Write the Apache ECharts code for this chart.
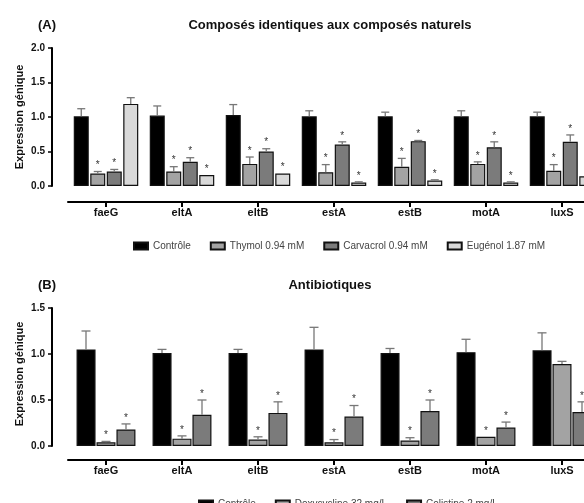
<!DOCTYPE html>
<html><head><meta charset="utf-8">
<script src="https://cdn.jsdelivr.net/npm/echarts@6/dist/echarts.min.js"></script>
<style>html,body{margin:0;padding:0;background:#fff}#c{width:584px;height:503px}</style>
</head><body><div id="c"></div>
<script>
const categories = ['faeG','eltA','eltB','estA','estB','motA','luxS'];
const yTicksA = [0, 0.5, 1.0, 1.5, 2.0];
const yTicksB = [0, 0.5, 1.0, 1.5];
const yTitle = 'Expression génique';

// Panel A
const controleA = [1.01,1.02,1.03,1.01,1.01,1.01,1.01];
const controleAErr = [1.12,1.16,1.18,1.09,1.07,1.09,1.07];
const thymol = [0.18,0.21,0.32,0.20,0.28,0.32,0.22];
const thymolErr = [0.21,0.28,0.42,0.31,0.40,0.35,0.31];
const carvacrol = [0.21,0.35,0.50,0.60,0.65,0.56,0.64];
const carvacrolErr = [0.24,0.41,0.54,0.64,0.66,0.64,0.74];
const eugenol = [1.19,0.16,0.18,0.05,0.08,0.05,0.14];
const eugenolErr = [1.28,0.16,0.18,0.06,0.09,0.06,0.14];
const starsThymol = [1,1,1,1,1,1,1];
const starsCarvacrol = [1,1,1,1,1,1,1];
const starsEugenol = [0,1,1,1,1,1,1];
const noStars = [0,0,0,0,0,0,0];

// Panel B
const controleB = [1.05,1.01,1.01,1.05,1.01,1.02,1.04];
const controleBErr = [1.25,1.05,1.05,1.29,1.06,1.16,1.23];
const doxy = [0.04,0.08,0.07,0.04,0.06,0.10,0.89];
const doxyErr = [0.05,0.11,0.10,0.07,0.09,0.10,0.92];
const colis = [0.18,0.34,0.36,0.32,0.38,0.20,0.37];
const colisErr = [0.24,0.50,0.48,0.44,0.50,0.26,0.48];
const starsDoxy = [1,1,1,1,1,1,0];
const starsColis = [1,1,1,1,1,1,1];

const FONT = 'Liberation Sans, Arial, sans-serif';
const cols = {ctrl:'#000000', mid:'#a3a3a3', dark:'#7b7b7b', light:'#d9d9d9'};

function errSeries(grid, vals, errs, stars, idx, n, bw, gap, capW){
  const data = vals.map((v,i)=>[i, v, errs[i], stars[i]]);
  return {
    type:'custom', xAxisIndex:grid, yAxisIndex:grid, z:5, silent:true,
    data,
    renderItem(params, api){
      const ci = api.value(0), v = api.value(1), e = api.value(2), s = api.value(3);
      const groupW = n*bw + (n-1)*gap;
      const off = -groupW/2 + bw/2 + idx*(bw+gap);
      const pv = api.coord([ci, v]);
      const pe = api.coord([ci, e]);
      const x = pv[0] + off;
      const children = [];
      if (pe[1] < pv[1] - 0.5) {
        children.push({type:'line', shape:{x1:x, y1:pv[1], x2:x, y2:pe[1]}, style:{stroke:'#777', lineWidth:1.3}});
        children.push({type:'line', shape:{x1:x-capW/2, y1:pe[1], x2:x+capW/2, y2:pe[1]}, style:{stroke:'#777', lineWidth:1.3}});
      }
      if (s) {
        const top = Math.min(pv[1], pe[1]);
        children.push({type:'text', style:{text:'*', x:x, y:top-6, align:'center', verticalAlign:'middle', font:'10px '+FONT, fill:'#333'}});
      }
      return {type:'group', children};
    }
  };
}

function barSeries(grid, name, vals, color, bw, gapPct){
  return {
    type:'bar', name, xAxisIndex:grid, yAxisIndex:grid, data:vals,
    barWidth:bw, barGap:gapPct,
    itemStyle:{color, borderColor:'#111', borderWidth:1.2},
    emphasis:{disabled:true}
  };
}

const xAxisBase = (grid, offset) => ({
  type:'category', gridIndex:grid, data:categories, offset,
  axisLine:{onZero:false, lineStyle:{color:'#000', width:2}},
  axisTick:{show:true, alignWithLabel:true, interval:0, length:5, lineStyle:{color:'#000', width:2}},
  axisLabel:{fontFamily:FONT, fontWeight:'bold', fontSize:11, color:'#111', margin:5}
});
const yAxisBase = (grid, max, ticks) => ({
  type:'value', gridIndex:grid, min:ticks[0], max, interval:0.5, offset:16,
  axisLine:{show:true, onZero:false, lineStyle:{color:'#000', width:2}},
  axisTick:{show:true, length:4, lineStyle:{color:'#000', width:1.5}},
  axisLabel:{fontFamily:FONT, fontWeight:'bold', fontSize:10, color:'#111', margin:7,
    formatter:v=>v.toFixed(1)},
  splitLine:{show:false}
});

const bwA = 15, gapA = 1.5, bwB = 19, gapB = 1;
const legendCommon = {itemWidth:14, itemHeight:7, itemGap:19, selectedMode:false, icon:'rect',
  textStyle:{fontFamily:FONT, fontSize:10, color:'#444'}};

const yNameText = (cy) => ({
  type:'text', x:20, y:cy, rotation:Math.PI/2,
  style:{text:yTitle, align:'center', verticalAlign:'middle',
    font:'bold 11px '+FONT, fill:'#111'}
});

const option = {
  animation:false,
  backgroundColor:'#fff',
  title:[
    {text:'(A)', left:33, top:14, textStyle:{fontFamily:FONT, fontWeight:'bold', fontSize:13, color:'#111'}},
    {text:'Composés identiques aux composés naturels', left:325, top:14, textAlign:'center',
      textStyle:{fontFamily:FONT, fontWeight:'bold', fontSize:13, color:'#111'}},
    {text:'(B)', left:33, top:274, textStyle:{fontFamily:FONT, fontWeight:'bold', fontSize:13, color:'#111'}},
    {text:'Antibiotiques', left:325, top:274, textAlign:'center',
      textStyle:{fontFamily:FONT, fontWeight:'bold', fontSize:13, color:'#111'}}
  ],
  graphic:[yNameText(117), yNameText(374)],
  legend:[
    Object.assign({left:128, top:236, data:['Contrôle','Thymol 0.94 mM','Carvacrol 0.94 mM','Eugénol 1.87 mM']}, legendCommon),
    Object.assign({left:193, top:494, data:['Contrôle','Doxycycline 32 mg/L','Colistine 2 mg/L']}, legendCommon)
  ],
  grid:[
    {left:68, top:48, width:532, height:138, containLabel:false, outerBoundsMode:'none'},
    {left:68, top:308, width:532, height:138, containLabel:false, outerBoundsMode:'none'}
  ],
  xAxis:[xAxisBase(0,16), xAxisBase(1,14)],
  yAxis:[yAxisBase(0,2.0,yTicksA), yAxisBase(1,1.5,yTicksB)],
  series:[
    barSeries(0,'Contrôle',controleA,cols.ctrl,bwA,'10%'),
    barSeries(0,'Thymol 0.94 mM',thymol,cols.mid,bwA,'10%'),
    barSeries(0,'Carvacrol 0.94 mM',carvacrol,cols.dark,bwA,'10%'),
    barSeries(0,'Eugénol 1.87 mM',eugenol,cols.light,bwA,'10%'),
    errSeries(0,controleA,controleAErr,noStars,0,4,bwA,gapA,8),
    errSeries(0,thymol,thymolErr,starsThymol,1,4,bwA,gapA,8),
    errSeries(0,carvacrol,carvacrolErr,starsCarvacrol,2,4,bwA,gapA,8),
    errSeries(0,eugenol,eugenolErr,starsEugenol,3,4,bwA,gapA,8),
    barSeries(1,'Contrôle',controleB,cols.ctrl,bwB,'5%'),
    barSeries(1,'Doxycycline 32 mg/L',doxy,cols.mid,bwB,'5%'),
    barSeries(1,'Colistine 2 mg/L',colis,cols.dark,bwB,'5%'),
    errSeries(1,controleB,controleBErr,noStars,0,3,bwB,gapB,9),
    errSeries(1,doxy,doxyErr,starsDoxy,1,3,bwB,gapB,9),
    errSeries(1,colis,colisErr,starsColis,2,3,bwB,gapB,9)
  ]
};
const chart = echarts.init(document.getElementById('c'), null, {renderer:'canvas'});
chart.setOption(option);
</script></body></html>
